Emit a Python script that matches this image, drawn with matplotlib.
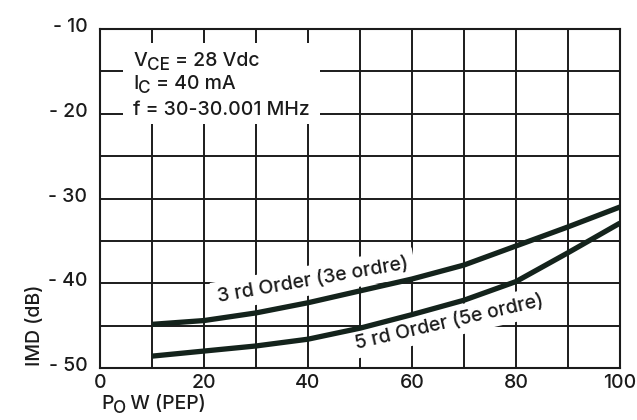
import matplotlib
matplotlib.use("Agg")
import matplotlib.pyplot as plt
from matplotlib.patches import Rectangle
from matplotlib.transforms import ScaledTranslation

plt.rcParams['font.family'] = ['Inter', 'Liberation Sans', 'DejaVu Sans']
plt.rcParams['font.weight'] = 'medium'

# Output power (W PEP) and intermodulation distortion (dB)
power_w = [10, 20, 30, 40, 50, 60, 70, 80, 90, 100]
imd_3rd = [-44.85, -44.4, -43.5, -42.3, -40.9, -39.5, -37.85, -35.6, -33.35, -31.0]
imd_5th = [-48.6, -48.0, -47.4, -46.6, -45.3, -43.7, -42.0, -39.8, -36.4, -32.9]

x_grid = [0, 10, 20, 30, 40, 50, 60, 70, 80, 90, 100]
x_labels = ["0", "", "20", "", "40", "", "60", "", "80", "", "100"]
y_grid = [-10, -15, -20, -25, -30, -35, -40, -45, -50]
y_labels = ["- 10", "", "- 20", "", "- 30", "", "- 40", "", "- 50"]

ink = "#1b1b1b"
curve_col = "#14231c"
fs = 14
sub_fs = fs * 0.88
sub_drop = -2.9  # points

fig = plt.figure(figsize=(6.37, 4.2), dpi=100)
ax = fig.add_axes([100 / 637, 1 - 368 / 420, 520 / 637, 339 / 420])
ax.set_xlim(0, 100)
ax.set_ylim(-50, -10)
renderer = fig.canvas.get_renderer()


def text_runs(x, y, runs, transform, **kw):
    """Draw consecutive pieces of text (string, size, baseline shift in pt)."""
    advance = 0.0
    for s, size, dy in runs:
        tr = transform + ScaledTranslation(advance / 72, dy / 72, fig.dpi_scale_trans)
        t = fig.text(x, y, s, fontsize=size, transform=tr, va="baseline",
                     ha="left", color=ink, **kw)
        advance += t.get_window_extent(renderer).width * 72 / fig.dpi


ax.set_xticks(x_grid)
ax.set_xticklabels(x_labels, fontsize=fs)
ax.set_yticks(y_grid)
ax.set_yticklabels(y_labels, fontsize=fs)
ax.tick_params(length=0, colors=ink)
ax.tick_params(axis='y', pad=9)
ax.tick_params(axis='x', pad=4)
shift = ScaledTranslation(0, 4 / 100, fig.dpi_scale_trans)
for lab in ax.get_yticklabels():
    lab.set_transform(lab.get_transform() + shift)

ax.grid(True, color=ink, linewidth=1.4, zorder=1)
ax.set_axisbelow(True)
for sp in ax.spines.values():
    sp.set_color(ink)
    sp.set_linewidth(1.5)

# Operating conditions block (clears the grid behind it)
ax.add_patch(Rectangle((4.4, -21.2), 37.9, 9.55, facecolor="white",
                       edgecolor="none", zorder=1.5))
text_runs(6.35, -14.37, [("V", fs, 0), ("CE", sub_fs, sub_drop),
                         (" = 28 Vdc", fs, 0)], ax.transData, zorder=4)
text_runs(6.35, -17.1, [("I", fs, 0), ("C", sub_fs, sub_drop),
                        (" = 40 mA", fs, 0)], ax.transData, zorder=4)
text_runs(6.35, -20.1, [("f = 30-30.001 MHz", fs, 0)], ax.transData, zorder=4)

ax.plot(power_w, imd_3rd, color=curve_col, linewidth=3.8,
        solid_capstyle="butt", solid_joinstyle="round", zorder=3)
ax.plot(power_w, imd_5th, color=curve_col, linewidth=3.8,
        solid_capstyle="butt", solid_joinstyle="round", zorder=3)

box = dict(boxstyle="square,pad=0.3", facecolor="white", edgecolor="none")
ax.text(41.0, -39.6, "3 rd Order (3e ordre)", fontsize=fs, color=ink,
        rotation=10, rotation_mode="anchor", ha="center", va="center",
        bbox=box, zorder=2)
ax.text(67.1, -44.6, "5 rd Order (5e ordre)", fontsize=fs, color=ink,
        rotation=13, rotation_mode="anchor", ha="center", va="center",
        bbox=box, zorder=2)

fig.text(35 / 637, 1 - 325 / 420, "IMD (dB)", rotation=90, fontsize=fs,
         color=ink, ha="center", va="center")
text_runs(101 / 637, 1 - 409 / 420, [("P", fs, 0), ("O", sub_fs, sub_drop),
                                     ("\u2009W (PEP)", fs, 0)], fig.transFigure)

fig.savefig("out.png", dpi=100, facecolor="white")
